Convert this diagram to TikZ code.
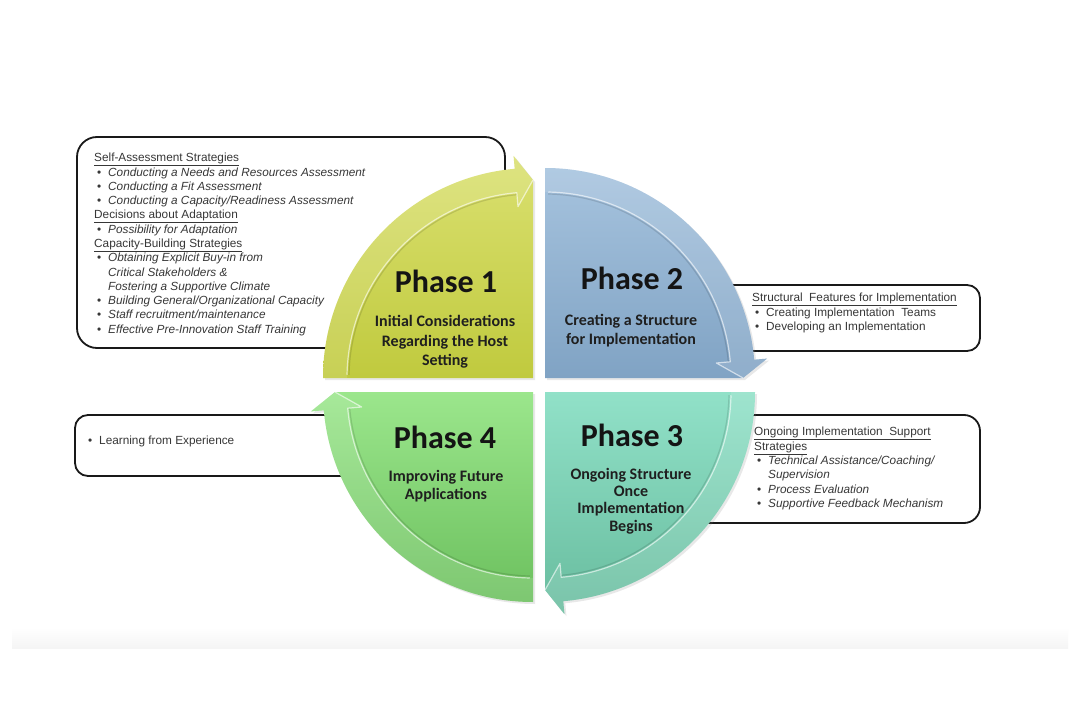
\documentclass[tikz,border=0pt]{standalone}
\usepackage{fontspec}
\setmainfont{Liberation Sans}
\newfontfamily\phasefont{Carlito}
\usetikzlibrary{shadows}
\newcommand{\bul}{\makebox[14pt][l]{\hspace{3pt}\textbullet}}
\newcommand{\ind}{\makebox[14pt][l]{}}
\definecolor{txtgray}{RGB}{55,55,55}
\definecolor{pOneA}{RGB}{218,224,112}
\definecolor{pOneB}{RGB}{192,202,62}
\definecolor{pTwoA}{RGB}{166,195,222}
\definecolor{pTwoB}{RGB}{128,163,196}
\definecolor{pThreeA}{RGB}{145,225,200}
\definecolor{pThreeB}{RGB}{104,188,158}
\definecolor{pFourA}{RGB}{155,230,140}
\definecolor{pFourB}{RGB}{108,192,94}
\begin{document}
\begin{tikzpicture}[x=1pt,y=-1pt,
  infobox/.style={draw=black!90, line width=1.8pt, rounded corners=#1, fill=white},
  boxtext/.style={anchor=north west, inner sep=0pt, text=txtgray, font=\fontsize{11.8}{14.25}\selectfont},
  phasetitle/.style={inner sep=0pt, font=\phasefont\bfseries\fontsize{32}{36}\selectfont, text=black!92},
  phasesub/.style={inner sep=0pt, align=center, text=black!88, font=\phasefont\bfseries\fontsize{16}{#1}\selectfont},
  highlight/.style={draw=white, draw opacity=0.6, line width=1.2pt, line join=round},
  lowlight/.style={draw=black, draw opacity=0.12, line width=1.2pt, line join=round},
  bandfill/.style={fill=white, fill opacity=0.12},
  quadshadow/.style={drop shadow={opacity=0.18, shadow xshift=2pt, shadow yshift=-2pt}},
]
\useasboundingbox (0,0) rectangle (1080,720);
\fill[white] (0,0) rectangle (1080,720);
\shade[top color=white, bottom color=black!4] (12,628) rectangle (1068,648);

% info boxes (behind the quadrants)
\draw[infobox=20] (77,137) rectangle (505,348);
\draw[infobox=13] (660,285) rectangle (980,351);
\draw[infobox=16] (650,415) rectangle (980,523);
\draw[infobox=13] (75,415) rectangle (420,476);

% Phase 1
\begin{scope}[shift={(533,378)}]
  \shade[quadshadow, top color=pOneA, bottom color=pOneB]
    (0,0) -- (180:210) arc[start angle=180, end angle=265, radius=210]
    -- (265:223) -- (270:198) -- cycle;
  \fill[bandfill] (180:210) arc[start angle=180, end angle=265, radius=210]
    -- (265:223) -- (270:198) -- (265:172) -- (265:186)
    arc[start angle=265, end angle=180, radius=186] -- cycle;
  \draw[lowlight] (181:184) arc[start angle=181, end angle=265, radius=184];
  \draw[highlight] (181:186) arc[start angle=181, end angle=265, radius=186] -- (265:172) -- (270:198);
\end{scope}
% Phase 2
\begin{scope}[shift={(545,378)}]
  \shade[quadshadow, top color=pTwoA, bottom color=pTwoB]
    (0,0) -- (270:210) arc[start angle=270, end angle=355, radius=210]
    -- (355:223) -- (360:198) -- cycle;
  \fill[bandfill] (270:210) arc[start angle=270, end angle=355, radius=210]
    -- (355:223) -- (360:198) -- (355:172) -- (355:186)
    arc[start angle=355, end angle=270, radius=186] -- cycle;
  \draw[lowlight] (271:184) arc[start angle=271, end angle=355, radius=184];
  \draw[highlight] (271:186) arc[start angle=271, end angle=355, radius=186] -- (355:172) -- (360:198);
\end{scope}
% Phase 3
\begin{scope}[shift={(545,392)}]
  \shade[quadshadow, top color=pThreeA, bottom color=pThreeB]
    (0,0) -- (0:210) arc[start angle=0, end angle=85, radius=210]
    -- (85:223) -- (90:198) -- cycle;
  \fill[bandfill] (0:210) arc[start angle=0, end angle=85, radius=210]
    -- (85:223) -- (90:198) -- (85:172) -- (85:186)
    arc[start angle=85, end angle=0, radius=186] -- cycle;
  \draw[lowlight] (1:184) arc[start angle=1, end angle=85, radius=184];
  \draw[highlight] (1:186) arc[start angle=1, end angle=85, radius=186] -- (85:172) -- (90:198);
\end{scope}
% Phase 4
\begin{scope}[shift={(533,392)}]
  \shade[quadshadow, top color=pFourA, bottom color=pFourB]
    (0,0) -- (90:210) arc[start angle=90, end angle=175, radius=210]
    -- (175:223) -- (180:198) -- cycle;
  \fill[bandfill] (90:210) arc[start angle=90, end angle=175, radius=210]
    -- (175:223) -- (180:198) -- (175:172) -- (175:186)
    arc[start angle=175, end angle=90, radius=186] -- cycle;
  \draw[lowlight] (91:184) arc[start angle=91, end angle=175, radius=184];
  \draw[highlight] (91:186) arc[start angle=91, end angle=175, radius=186] -- (175:172) -- (180:198);
\end{scope}

% phase texts
\node[phasetitle] (t1) at (446,281) {Phase 1};
\node[phasesub=19.5] (s1) at (445,342) {Initial Considerations\\Regarding the Host\\Setting};
\node[phasetitle] (t2) at (632,278) {Phase 2};
\node[phasesub=19] (s2) at (631,331) {Creating a Structure\\for Implementation};
\node[phasetitle] (t3) at (632,435) {Phase 3};
\node[phasesub=17.3] (s3) at (631,501) {Ongoing Structure\\Once\\Implementation\\Begins};
\node[phasetitle] (t4) at (445,437) {Phase 4};
\node[phasesub=17.5] (s4) at (446,486) {Improving Future\\Applications};

% box texts
\node[boxtext] (b1) at (94,151.5) {\begin{tabular}{@{}l@{}l@{}}
\multicolumn{2}{@{}l@{}}{\underline{Self-Assessment Strategies}}\\
\bul & \textit{Conducting a Needs and Resources Assessment}\\
\bul & \textit{Conducting a Fit Assessment}\\
\bul & \textit{Conducting a Capacity/Readiness Assessment}\\
\multicolumn{2}{@{}l@{}}{\underline{Decisions about Adaptation}}\\
\bul & \textit{Possibility for Adaptation}\\
\multicolumn{2}{@{}l@{}}{\underline{Capacity-Building Strategies}}\\
\bul & \textit{Obtaining Explicit Buy-in from}\\
\ind & \textit{Critical Stakeholders \&}\\
\ind & \textit{Fostering a Supportive Climate}\\
\bul & \textit{Building General/Organizational Capacity}\\
\bul & \textit{Staff recruitment/maintenance}\\
\bul & \textit{Effective Pre-Innovation Staff Training}
\end{tabular}};
\node[boxtext] (b2) at (752,291.5) {\begin{tabular}{@{}l@{}l@{}}
\multicolumn{2}{@{}l@{}}{\underline{Structural\ \ Features for Implementation}}\\
\bul & Creating Implementation\ \ Teams\\
\bul & Developing an Implementation
\end{tabular}};
\node[boxtext] (b3) at (754,425.5) {\begin{tabular}{@{}l@{}l@{}}
\multicolumn{2}{@{}l@{}}{\underline{Ongoing Implementation\ \ Support}}\\
\multicolumn{2}{@{}l@{}}{\underline{Strategies}}\\
\bul & \textit{Technical Assistance/Coaching/}\\
\ind & \textit{Supervision}\\
\bul & \textit{Process Evaluation}\\
\bul & \textit{Supportive Feedback Mechanism}
\end{tabular}};
\node[boxtext] (b4) at (85,434.5) {\begin{tabular}{@{}l@{}l@{}}
\bul & Learning from Experience
\end{tabular}};
\end{tikzpicture}
\end{document}
